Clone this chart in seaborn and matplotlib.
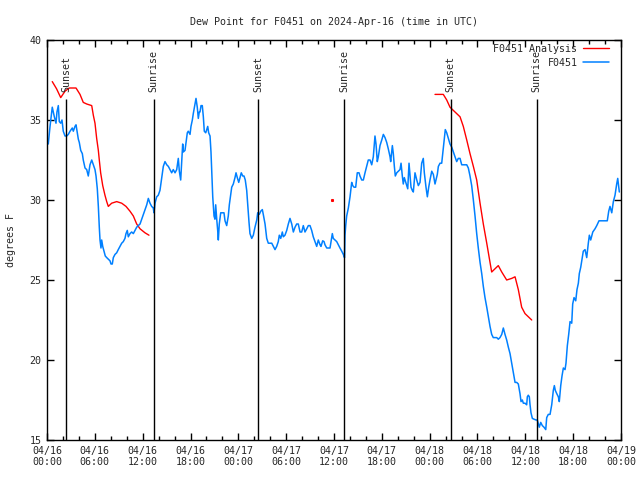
import numpy as np
import pandas as pd
import matplotlib
matplotlib.use("Agg")
import matplotlib.pyplot as plt
import seaborn as sns
from matplotlib.ticker import MultipleLocator

# hours since 2024-04-16 00:00 UTC
obs_hours = [
    0.16, 0.38, 0.66, 0.79, 0.92, 1.13, 1.25, 1.42, 1.54, 1.72,
    1.88, 2.04, 2.26, 2.47, 2.67, 2.89, 3.17, 3.30, 3.51, 3.64,
    3.80, 3.93, 4.05, 4.23, 4.43, 4.55, 4.77, 4.98, 5.18, 5.39,
    5.61, 5.81, 6.02, 6.15, 6.31, 6.44, 6.56, 6.65, 6.77, 6.86,
    6.99, 7.15, 7.31, 7.49, 7.69, 7.90, 8.03, 8.19, 8.32, 8.53,
    8.74, 8.94, 9.16, 9.37, 9.57, 9.78, 9.91, 10.07, 10.20, 10.41,
    10.62, 10.83, 11.04, 11.25, 11.45, 11.67, 11.88, 12.08, 12.29, 12.51,
    12.71, 12.92, 13.13, 13.33, 13.42, 13.55, 13.76, 13.96, 14.17, 14.39,
    14.59, 14.80, 15.02, 15.22, 15.43, 15.64, 15.84, 16.06, 16.27, 16.47,
    16.60, 16.77, 16.90, 17.02, 17.10, 17.31, 17.44, 17.60, 17.72, 17.94,
    18.06, 18.23, 18.35, 18.57, 18.69, 18.85, 18.98, 19.10, 19.19, 19.32,
    19.48, 19.61, 19.73, 19.91, 20.03, 20.16, 20.28, 20.45, 20.57, 20.70,
    20.79, 20.95, 21.07, 21.16, 21.29, 21.41, 21.49, 21.61, 21.79, 22.04,
    22.20, 22.33, 22.54, 22.74, 22.87, 23.04, 23.17, 23.37, 23.58, 23.71,
    23.87, 24.05, 24.21, 24.37, 24.55, 24.71, 24.87, 25.05, 25.18, 25.34,
    25.46, 25.68, 25.88, 26.09, 26.31, 26.43, 26.63, 26.81, 27.01, 27.13,
    27.35, 27.56, 27.76, 27.97, 28.19, 28.39, 28.60, 28.81, 29.01, 29.14,
    29.32, 29.52, 29.64, 29.85, 30.07, 30.27, 30.48, 30.70, 30.90, 31.11,
    31.32, 31.52, 31.74, 31.95, 32.15, 32.36, 32.58, 32.78, 32.99, 33.20,
    33.40, 33.62, 33.83, 34.03, 34.25, 34.37, 34.58, 34.75, 34.87, 35.09,
    35.29, 35.50, 35.63, 35.79, 35.91, 36.13, 36.34, 36.54, 36.75, 36.97,
    37.17, 37.32, 37.38, 37.47, 37.59, 37.80, 38.01, 38.22, 38.35, 38.51,
    38.72, 38.92, 39.14, 39.26, 39.48, 39.68, 39.89, 40.10, 40.30, 40.52,
    40.73, 40.93, 41.14, 41.27, 41.43, 41.56, 41.77, 41.99, 42.19, 42.40,
    42.61, 42.81, 43.03, 43.11, 43.32, 43.44, 43.57, 43.69, 43.87, 44.07,
    44.28, 44.41, 44.57, 44.69, 44.82, 45.00, 45.12, 45.25, 45.41, 45.54,
    45.66, 45.82, 45.95, 46.16, 46.38, 46.58, 46.79, 47.00, 47.20, 47.33,
    47.54, 47.71, 47.88, 48.04, 48.26, 48.46, 48.67, 48.96, 49.09, 49.30,
    49.51, 49.64, 49.80, 49.96, 50.14, 50.34, 50.55, 50.77, 50.97, 51.18,
    51.39, 51.59, 51.81, 52.02, 52.22, 52.65, 52.85, 53.06, 53.27, 53.48,
    53.69, 53.90, 54.10, 54.32, 54.53, 54.73, 54.94, 55.16, 55.36, 55.57,
    55.78, 55.98, 56.41, 56.61, 56.82, 57.04, 57.24, 57.45, 57.66, 57.87,
    58.08, 58.29, 58.49, 58.71, 58.92, 59.12, 59.33, 59.46, 59.62, 59.75,
    59.96, 60.17, 60.25, 60.37, 60.50, 60.59, 60.71, 60.88, 61.09, 61.34,
    61.50, 61.75, 61.93, 62.13, 62.34, 62.56, 62.68, 62.88, 63.10, 63.31,
    63.51, 63.64, 63.76, 63.94, 64.14, 64.26, 64.44, 64.60, 64.77, 64.98,
    65.10, 65.27, 65.44, 65.61, 65.82, 65.94, 66.11, 66.32, 66.48, 66.65,
    66.77, 66.95, 67.11, 67.27, 67.49, 67.70, 67.90, 68.03, 68.20, 68.46,
    68.74, 68.96, 69.24, 70.00, 70.28, 70.46, 70.62, 70.84, 71.04, 71.25,
    71.46, 71.59, 71.72, 71.79,
]
obs_dewpt = [
    33.5, 34.6, 35.8, 35.5, 35.2, 34.8, 35.5, 35.9, 34.9, 34.8,
    35.0, 34.3, 34.0, 34.0, 34.1, 34.3, 34.5, 34.3, 34.6, 34.7,
    34.2, 33.8, 33.6, 33.1, 32.9, 32.5, 32.0, 31.9, 31.5, 32.2,
    32.5, 32.2, 31.9, 31.5, 30.7, 29.6, 28.3, 27.5, 27.0, 27.5,
    27.1, 26.8, 26.5, 26.4, 26.3, 26.2, 26.0, 26.0, 26.4, 26.6,
    26.7, 26.9, 27.1, 27.3, 27.4, 27.6, 27.9, 28.1, 27.7, 27.9,
    28.0, 27.9, 28.1, 28.3, 28.4, 28.5, 28.8, 29.1, 29.4, 29.7,
    30.1, 29.8, 29.6, 29.5, 29.2, 29.8, 30.2, 30.3, 30.6, 31.4,
    32.1, 32.4, 32.2, 32.1, 31.9, 31.7, 31.9, 31.7, 31.9, 32.6,
    31.8, 31.25, 32.4, 33.5, 33.0, 33.1, 33.6, 34.2, 34.3, 34.1,
    34.6, 35.0, 35.4, 36.0, 36.35, 35.8, 35.1, 35.5, 35.5, 35.9,
    35.9, 35.2, 34.3, 34.2, 34.4, 34.6, 34.2, 34.0, 33.0, 31.35,
    30.2, 29.0, 28.8, 29.7, 28.8, 28.1, 27.5, 28.5, 29.2, 29.2,
    29.2, 28.7, 28.4, 29.0, 29.7, 30.3, 30.8, 31.0, 31.4, 31.7,
    31.4, 31.1, 31.4, 31.7, 31.5, 31.5, 31.25, 30.6, 29.7, 28.6,
    27.9, 27.6, 27.8, 28.3, 28.75, 29.2, 29.1, 29.3, 29.4, 29.1,
    28.5, 27.6, 27.3, 27.3, 27.3, 27.1, 26.9, 27.1, 27.4, 27.8,
    27.6, 28.0, 27.7, 27.8, 28.1, 28.5, 28.85, 28.5, 28.0, 28.3,
    28.5, 28.5, 28.0, 28.0, 28.4, 28.0, 28.2, 28.4, 28.4, 28.1,
    27.7, 27.4, 27.1, 27.5, 27.2, 27.1, 27.45, 27.4, 27.2, 27.0,
    27.0, 27.0, 27.4, 27.9, 27.6, 27.5, 27.4, 27.2, 27.0, 26.8,
    26.6, 26.4, 27.8, 28.4, 29.0, 29.5, 30.2, 31.1, 30.9, 30.8,
    30.8, 31.7, 31.7, 31.5, 31.25, 31.25, 31.7, 32.1, 32.5, 32.5,
    32.2, 32.7, 34.0, 33.5, 32.4, 32.7, 33.4, 33.75, 34.1, 33.9,
    33.6, 33.2, 32.7, 32.4, 33.4, 32.9, 32.1, 31.5, 31.7, 31.8,
    31.9, 32.3, 31.5, 31.0, 31.4, 31.1, 30.9, 30.7, 32.3, 31.5,
    30.8, 30.6, 30.5, 31.7, 31.25, 30.9, 31.1, 32.3, 32.6, 31.7,
    30.8, 30.2, 30.8, 31.25, 31.8, 31.6, 31.0, 31.6, 32.1, 32.3,
    32.3, 32.9, 33.7, 34.4, 34.2, 33.85, 33.5, 33.3, 33.0, 32.7,
    32.4, 32.6, 32.6, 32.2, 32.2, 32.2, 32.0, 31.5, 30.9, 30.0,
    29.0, 27.9, 27.0, 26.1, 25.4, 24.6, 23.9, 23.3, 22.7, 22.1,
    21.6, 21.4, 21.4, 21.3, 21.4, 21.6, 22.0, 21.6, 21.25, 20.8,
    20.4, 19.8, 19.2, 18.6, 18.6, 18.5, 17.9, 17.4, 17.5, 17.3,
    17.3, 17.2, 17.7, 17.8, 17.7, 17.2, 16.7, 16.35, 16.3, 16.25,
    16.25, 15.8, 16.1, 15.9, 15.8, 15.65, 16.4, 16.6, 16.6, 17.2,
    18.1, 18.4, 18.1, 17.9, 17.7, 17.4, 18.4, 19.0, 19.5, 19.4,
    19.8, 20.9, 21.6, 22.4, 22.3, 23.5, 23.9, 23.7, 24.4, 24.8,
    25.4, 25.8, 26.3, 26.8, 26.9, 26.4, 27.3, 27.8, 27.5, 28.0,
    28.2, 28.4, 28.7, 28.7, 28.7, 29.3, 29.6, 29.2, 29.9, 30.3,
    31.0, 31.35, 30.8, 30.5,
]

# analysis series, three separate pieces
ana1_hours = [0.66, 1.2, 1.72, 2.26, 2.8, 3.64, 4.14, 4.55, 4.98, 5.61,
              5.81, 6.02, 6.23, 6.44, 6.56, 6.73, 6.99, 7.27, 7.49, 7.69,
              8.11, 8.74, 9.37, 9.91, 10.41, 10.83, 11.25, 11.67, 12.29, 12.79]
ana1_dewpt = [37.4, 36.95, 36.4, 36.8, 37.0, 37.0, 36.6, 36.1, 36.0, 35.9,
              35.3, 34.8, 33.85, 33.1, 32.5, 31.7, 30.9, 30.3, 29.9, 29.6,
              29.8, 29.9, 29.8, 29.6, 29.3, 29.0, 28.5, 28.2, 27.95, 27.8]
ana2_hours = [48.67, 49.71, 50.14, 50.55, 51.18, 51.81, 52.22, 52.65, 53.06, 53.48,
              53.90, 54.32, 54.73, 55.16, 55.57, 55.78, 56.19, 56.61, 57.04, 57.66,
              58.29, 58.71, 59.12, 59.54, 59.96, 60.80]
ana2_dewpt = [36.6, 36.6, 36.25, 35.8, 35.5, 35.2, 34.6, 33.75, 32.9, 32.1,
              31.25, 29.8, 28.5, 27.3, 26.1, 25.5, 25.7, 25.9, 25.5, 25.0,
              25.1, 25.2, 24.4, 23.3, 22.9, 22.5]
ana_lone_hour = [35.8]
ana_lone_dewpt = [30.0]

sun_hours = [2.38, 13.36, 26.51, 37.29, 50.64, 61.43]
sun_labels = ["Sunset", "Sunrise", "Sunset", "Sunrise", "Sunset", "Sunrise"]

tick_hours = list(range(0, 73, 6))
tick_labels = ["04/16\n00:00", "04/16\n06:00", "04/16\n12:00", "04/16\n18:00",
               "04/17\n00:00", "04/17\n06:00", "04/17\n12:00", "04/17\n18:00",
               "04/18\n00:00", "04/18\n06:00", "04/18\n12:00", "04/18\n18:00",
               "04/19\n00:00"]

obs_df = pd.DataFrame({"hour": obs_hours, "dewpt": obs_dewpt})
ana_df = pd.concat([
    pd.DataFrame({"hour": ana1_hours, "dewpt": ana1_dewpt, "seg": 1}),
    pd.DataFrame({"hour": ana2_hours, "dewpt": ana2_dewpt, "seg": 2}),
])

sns.set_style("ticks", {"xtick.direction": "in", "ytick.direction": "in"})
plt.rcParams["font.family"] = ["DejaVu Sans Mono"]
fs = 7.2

fig = plt.figure(figsize=(6.4, 4.8), dpi=100)
ax = fig.add_axes([47 / 640, 40 / 480, 574 / 640, 400 / 480])

sns.lineplot(data=ana_df, x="hour", y="dewpt", units="seg", estimator=None,
             color="#ff0000", lw=1, ax=ax, label="F0451 Analysis")
ax.plot(ana_lone_hour, ana_lone_dewpt, ls="none", marker="s", ms=1.2, color="#ff0000")
sns.lineplot(data=obs_df, x="hour", y="dewpt", color="#0080ff", lw=1.1, ax=ax, label="F0451")

for h, lab in zip(sun_hours, sun_labels):
    ax.vlines(h, 15, 36.3, color="black", lw=1)
    ax.text(h, 36.75, lab, rotation=90, ha="center", va="bottom", fontsize=fs)

ax.set_xlim(0, 72)
ax.set_ylim(15, 40)
ax.set_xticks(tick_hours)
ax.set_xticklabels(tick_labels)
ax.xaxis.set_minor_locator(MultipleLocator(2))
ax.set_yticks(range(15, 41, 5))
ax.tick_params(which="both", direction="in", top=True, right=True, width=1, color="black")
ax.tick_params(which="major", length=5, pad=4, labelsize=fs)
ax.tick_params(which="minor", length=3)
for sp in ax.spines.values():
    sp.set_visible(True)
    sp.set_color("black")
    sp.set_linewidth(1)

ax.set_xlabel("")
ax.set_ylabel("degrees F", fontsize=fs)
ax.yaxis.set_label_coords(-0.054, 0.5)
ax.set_title("Dew Point for F0451 on 2024-Apr-16 (time in UTC)", fontsize=fs, pad=11)

# one legend entry per series
handles, labels = ax.get_legend_handles_labels()
uniq = dict(zip(labels, handles))
ax.legend(list(uniq.values()), list(uniq.keys()), loc="upper right",
          bbox_to_anchor=(0.979, 0.99), markerfirst=False, frameon=False,
          handlelength=2.6, handletextpad=0.55, borderpad=0, borderaxespad=0,
          labelspacing=0.4, fontsize=fs)

fig.savefig("out.png", dpi=100)
